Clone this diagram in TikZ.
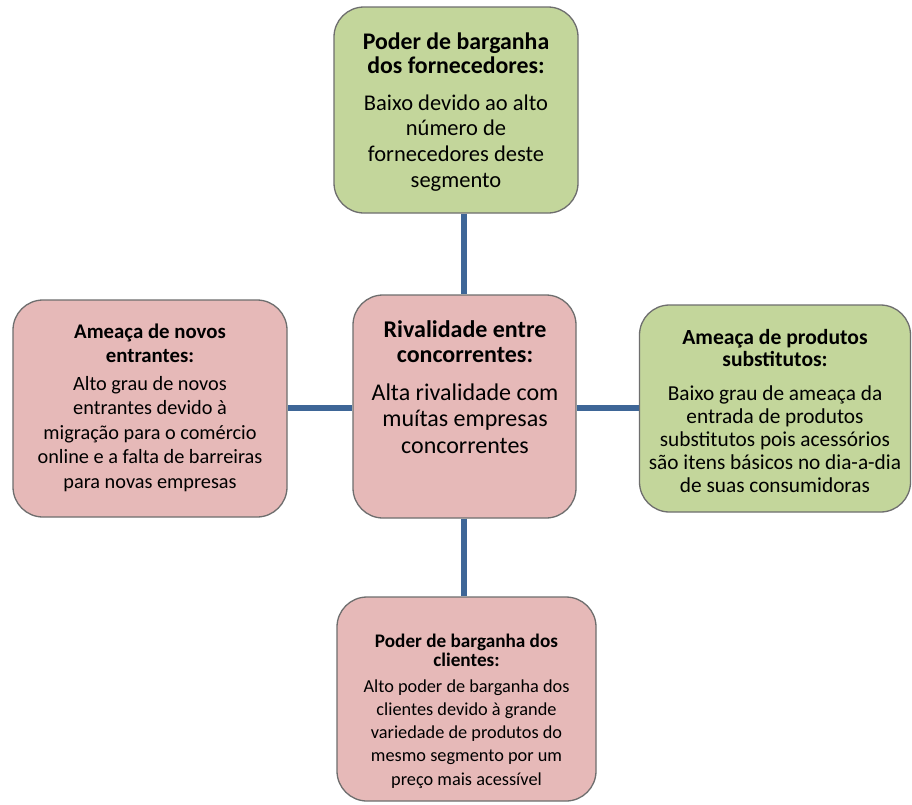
\documentclass[tikz,border=0pt]{standalone}
\usepackage{fontspec}
\setmainfont{Carlito}
\definecolor{boxgreen}{HTML}{C3D69B}
\definecolor{boxpink}{HTML}{E6B9B8}
\definecolor{linkblue}{HTML}{3E6697}
\definecolor{boxedge}{HTML}{6E6E6E}
\newcommand{\topstrut}{\rule{0pt}{1em}}
\tikzset{
  forcebox/.style={draw=boxedge, line width=1.3pt, rounded corners=30pt, inner sep=0pt},
  greenbox/.style={forcebox, fill=boxgreen},
  pinkbox/.style={forcebox, fill=boxpink},
  txt/.style={anchor=north, inner sep=0pt, align=center, text=black},
  link/.style={draw=linkblue, line width=6.5pt}
}
\begin{document}
\begin{tikzpicture}[x=1pt,y=-1pt]
\useasboundingbox[fill=white] (0,0) rectangle (912,804);
\coordinate (c) at (464,408);
% boxes
\node[greenbox, minimum width=244pt, minimum height=206pt] (sup) at (456,110) {};
\node[pinkbox, minimum width=223pt, minimum height=223pt] (riv) at (464.5,406.5) {};
\node[pinkbox, minimum width=274pt, minimum height=217pt] (ent) at (150,408.5) {};
\node[greenbox, minimum width=271pt, minimum height=207pt] (sub) at (775,408.5) {};
\node[pinkbox, minimum width=259pt, minimum height=204pt] (cli) at (466.5,699) {};
% connectors
\draw[link] (sup.south -| c) -- (riv.north -| c);
\draw[link] (riv.south -| c) -- (cli.north -| c);
\draw[link] (ent.east |- c) -- (riv.west |- c);
\draw[link] (riv.east |- c) -- (sub.west |- c);
% texts
\node[txt, font=\fontsize{23.8}{24}\selectfont\bfseries] (supT) at (456,25.2) {\topstrut Poder de barganha\\dos fornecedores:};
\node[txt, font=\fontsize{22.5}{25.7}\selectfont] (supB) at (456,87.5) {\topstrut Baixo devido ao alto\\número de\\fornecedores deste\\segmento};
\node[txt, font=\fontsize{24}{25}\selectfont\bfseries] (rivT) at (465,313) {\topstrut Rivalidade entre\\concorrentes:};
\node[txt, font=\fontsize{24}{26.5}\selectfont] (rivB) at (465,376) {\topstrut Alta rivalidade com\\muítas empresas\\concorrentes};
\node[txt, font=\fontsize{20.8}{24}\selectfont\bfseries] (entT) at (150,317.2) {\topstrut Ameaça de novos\\entrantes:};
\node[txt, font=\fontsize{20.3}{24.5}\selectfont] (entB) at (150,369.7) {\topstrut Alto grau de novos\\entrantes devido à\\migração para o comércio\\online e a falta de barreiras\\para novas empresas};
\node[txt, font=\fontsize{21.6}{22}\selectfont\bfseries] (subT) at (775,322.4) {\topstrut Ameaça de produtos\\substitutos:};
\node[txt, font=\fontsize{21.3}{23}\selectfont] (subB) at (775,378.7) {\topstrut Baixo grau de ameaça da\\entrada de produtos\\substitutos pois acessórios\\são itens básicos no dia-a-dia\\de suas consumidoras};
\node[txt, font=\fontsize{19.2}{19}\selectfont\bfseries] (cliT) at (466.5,628) {\topstrut Poder de barganha dos\\clientes:};
\node[txt, font=\fontsize{18.3}{23.3}\selectfont] (cliB) at (466.5,673.5) {\topstrut Alto poder de barganha dos\\clientes devido à grande\\variedade de produtos do\\mesmo segmento por um\\preço mais acessível};
\end{tikzpicture}
\end{document}
